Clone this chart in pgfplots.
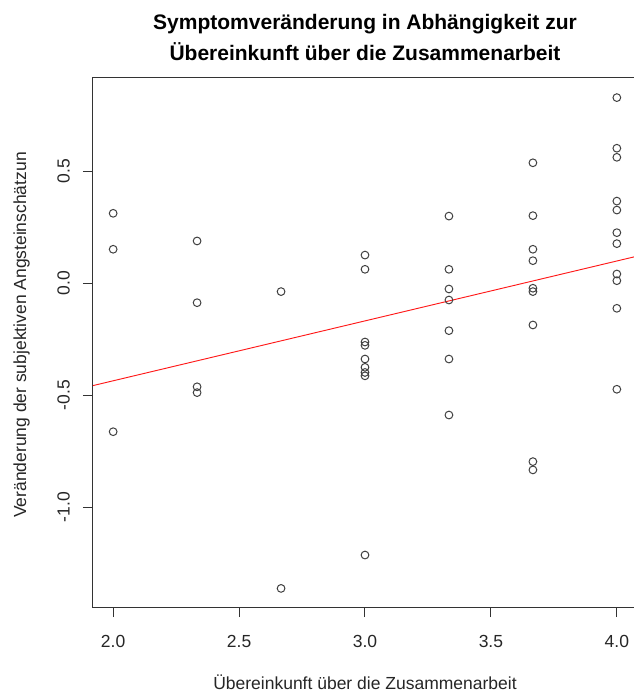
\documentclass[border=0pt]{standalone}
\usepackage{pgfplots}
\pgfplotsset{compat=1.18}
\usepackage{fontspec}
\setmainfont{Liberation Sans}
\begin{document}
\begin{tikzpicture}
\path[use as bounding box] (-69.75pt,-64.5pt) rectangle (405pt,455.25pt);
\begin{axis}[
  at={(0pt,0pt)}, anchor=south west,
  scale only axis, width=408pt, height=396.75pt,
  xmin=1.92, xmax=4.08, ymin=-1.445, ymax=0.9165,
  axis line style={black!80, line width=0.75pt},
  tick style={black!80, line width=0.75pt},
  tick align=outside, major tick length=7.5pt,
  xtick pos=left, ytick pos=left,
  xtick={2,2.5,3,3.5,4}, xticklabels={2.0,2.5,3.0,3.5,4.0},
  ytick={-1,-0.5,0,0.5}, yticklabels={-1.0,-0.5,0.0,0.5},
  ticklabel style={font=\fontsize{13.125}{15}\selectfont, text=black!85},
  xticklabel style={anchor=north, inner sep=0pt, yshift=-13.5pt},
  yticklabel style={xshift=-9.75pt, rotate=90, anchor=south, inner sep=0pt},
  title={Symptomveränderung in Abhängigkeit zur\\Übereinkunft über die Zusammenarbeit},
  title style={at={(rel axis cs:0.5,1)}, anchor=south, inner sep=0pt, yshift=6.75pt, align=center, font=\bfseries\fontsize{15.75}{23.25}\selectfont},
  xlabel={Übereinkunft über die Zusammenarbeit},
  xlabel style={at={(axis description cs:0.5,0)}, anchor=base, inner sep=0pt, yshift=-61.5pt, font=\fontsize{13.125}{15}\selectfont, text=black!85},
  ylabel={Veränderung der subjektiven Angsteinschätzun},
  ylabel style={at={(axis description cs:-0.12316,0.514)}, anchor=base, inner sep=0pt, font=\fontsize{13.125}{15}\selectfont, text=black!85},
]
\addplot[only marks, mark=o, mark size=2.9pt, mark options={black!75, line width=0.75pt}] coordinates {
(2,0.3125) (2,0.152) (2,-0.6625)
(2.3333,0.189) (2.3333,-0.0866) (2.3333,-0.462) (2.3333,-0.488)
(2.6667,-0.037) (2.6667,-1.362)
(3,0.126) (3,0.0625) (3,-0.262) (3,-0.277) (3,-0.338) (3,-0.375) (3,-0.398) (3,-0.413) (3,-1.213)
(3.3333,0.300) (3.3333,0.0625) (3.3333,-0.0254) (3.3333,-0.0746) (3.3333,-0.2114) (3.3333,-0.338) (3.3333,-0.588)
(3.6667,0.538) (3.6667,0.302) (3.6667,0.152) (3.6667,0.101) (3.6667,-0.022) (3.6667,-0.037) (3.6667,-0.186) (3.6667,-0.796) (3.6667,-0.833)
(4,0.829) (4,0.603) (4,0.5625) (4,0.367) (4,0.327) (4,0.226) (4,0.177) (4,0.0415) (4,0.0116) (4,-0.1116) (4,-0.473)
};
\addplot[red!90, line width=0.7pt] coordinates {(1.92,-0.4566) (4.08,0.1210)};
\end{axis}
\end{tikzpicture}
\end{document}
